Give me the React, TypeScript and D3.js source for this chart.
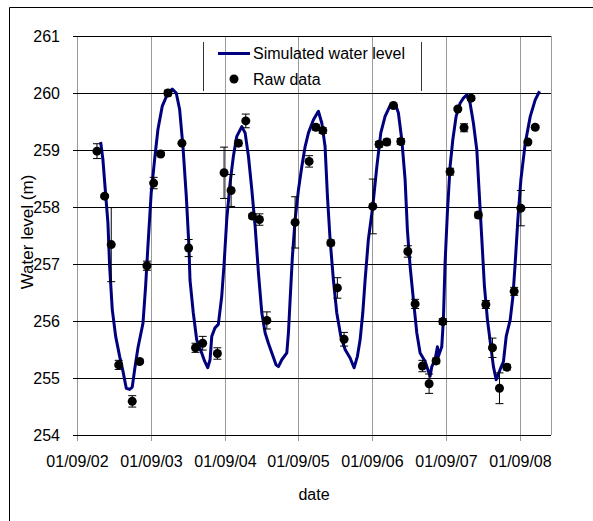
import { useEffect, useRef } from 'react';
import * as d3 from 'd3';

// simulated series: decimal year / water level (m)
const simYears = [
  2002.981, 2003.012, 2003.044, 2003.08, 2003.103, 2003.139, 2003.185, 2003.239, 2003.284, 2003.329,
  2003.375, 2003.41, 2003.443, 2003.488, 2003.556, 2003.592, 2003.623, 2003.668, 2003.714, 2003.759,
  2003.818, 2003.895, 2003.954, 2004.008, 2004.054, 2004.099, 2004.144, 2004.18, 2004.194, 2004.239,
  2004.285, 2004.353, 2004.391, 2004.434, 2004.466, 2004.489, 2004.533, 2004.578, 2004.624, 2004.656,
  2004.692, 2004.737, 2004.782, 2004.828, 2004.896, 2004.941, 2004.986, 2005.032, 2005.077, 2005.122,
  2005.168, 2005.213, 2005.257, 2005.304, 2005.362, 2005.393, 2005.439, 2005.507, 2005.529, 2005.552,
  2005.583, 2005.62, 2005.665, 2005.711, 2005.756, 2005.801, 2005.869, 2005.936, 2005.983, 2006.027,
  2006.059, 2006.095, 2006.14, 2006.186, 2006.241, 2006.299, 2006.367, 2006.421, 2006.466, 2006.503,
  2006.539, 2006.571, 2006.615, 2006.675, 2006.73, 2006.784, 2006.842, 2006.91, 2006.978, 2007.023,
  2007.069, 2007.114, 2007.145, 2007.182, 2007.227, 2007.273, 2007.318, 2007.386, 2007.453, 2007.477,
  2007.521, 2007.553, 2007.566, 2007.612, 2007.634, 2007.657, 2007.688, 2007.725, 2007.762, 2007.807,
  2007.861, 2007.906, 2007.952, 2007.997, 2008.042, 2008.088, 2008.123, 2008.156, 2008.191, 2008.232,
  2008.278, 2008.313, 2008.35, 2008.404, 2008.449, 2008.486, 2008.54, 2008.577, 2008.608, 2008.644,
  2008.685, 2008.744, 2008.812, 2008.879, 2008.938,
];
const simLevels = [
  259.14, 258.83, 258.3, 257.72, 256.96, 256.2, 255.73, 255.38, 255.12, 254.82,
  254.8, 254.84, 255.15, 255.53, 255.96, 256.61, 257.31, 258.25, 258.83, 259.36,
  259.77, 260.0, 260.07, 260.0, 259.71, 259.06, 258.19, 257.31, 256.72, 256.14,
  255.67, 255.44, 255.3, 255.18, 255.32, 255.73, 255.88, 255.94, 256.43, 257.0,
  257.78, 258.42, 258.89, 259.24, 259.41, 259.3, 258.89, 258.3, 257.66, 256.84,
  256.14, 255.79, 255.61, 255.44, 255.23, 255.2, 255.32, 255.44, 255.79, 256.37,
  257.13, 257.78, 258.3, 258.71, 259.06, 259.3, 259.53, 259.68, 259.47, 259.06,
  258.19, 257.43, 256.72, 256.14, 255.73, 255.5, 255.35, 255.18, 255.38, 255.67,
  256.14, 256.72, 257.43, 258.01, 258.71, 259.3, 259.59, 259.78, 259.82, 259.65,
  259.18, 258.48, 257.6, 256.96, 256.37, 255.79, 255.44, 255.29, 255.03, 255.2,
  255.32, 255.55, 255.38, 255.55, 256.02, 257.02, 257.89, 258.71, 259.18, 259.59,
  259.82, 259.91, 259.97, 259.82, 259.47, 259.0, 258.19, 257.43, 256.61, 256.02,
  255.55, 255.2, 254.97, 255.15, 255.29, 255.73, 256.02, 256.43, 257.02, 257.78,
  258.48, 259.12, 259.59, 259.88, 260.03,
];

// measured points
const rawYears = [
  2002.931, 2003.035, 2003.125, 2003.226, 2003.41, 2003.511, 2003.61, 2003.701, 2003.796, 2003.895,
  2004.085, 2004.176, 2004.269, 2004.366, 2004.565, 2004.656, 2004.751, 2004.85, 2004.95, 2005.04,
  2005.135, 2005.236, 2005.62, 2005.81, 2005.901, 2005.996, 2006.105, 2006.194, 2006.285, 2006.675,
  2006.761, 2006.865, 2006.955, 2007.056, 2007.151, 2007.25, 2007.349, 2007.44, 2007.535, 2007.626,
  2007.725, 2007.83, 2007.915, 2008.01, 2008.109, 2008.21, 2008.3, 2008.395, 2008.495, 2008.594,
  2008.685, 2008.78, 2008.879,
];
const rawLevels = [
  258.98, 258.19, 257.34, 255.23, 254.59, 255.29, 256.97, 258.42, 258.93, 260.0,
  259.12, 257.28, 255.53, 255.61, 255.43, 258.6, 258.29, 259.12, 259.51, 257.84,
  257.78, 256.01, 257.73, 258.8, 259.4, 259.34, 257.37, 256.58, 255.68, 258.01,
  259.1, 259.14, 259.78, 259.15, 257.22, 256.3, 255.21, 254.9, 255.3, 255.99,
  258.62, 259.72, 259.39, 259.91, 257.86, 256.29, 255.53, 254.82, 255.19, 256.52,
  257.98, 259.14, 259.4,
];
const rawErrors = [
  0.13, 0.03, 0.65, 0.08, 0.1, 0.03, 0.08, 0.1, 0.03, 0.05,
  0.0, 0.15, 0.08, 0.12, 0.1, 0.45, 0.28, 0.05, 0.12, 0.04,
  0.1, 0.15, 0.45, 0.1, 0.05, 0.05, 0.05, 0.18, 0.12, 0.48,
  0.05, 0.05, 0.02, 0.05, 0.1, 0.08, 0.1, 0.17, 0.05, 0.05,
  0.06, 0.02, 0.07, 0.04, 0.05, 0.07, 0.17, 0.27, 0.05, 0.07,
  0.31, 0.03, 0.03,
];

const tickDates = ['2002-09-01', '2003-09-01', '2004-09-01', '2005-09-01', '2006-09-01', '2007-09-01', '2008-09-01'];
const yTicks = [254, 255, 256, 257, 258, 259, 260, 261];
const legendLabels = ['Simulated water level', 'Raw data'];

const FONT = "'Liberation Sans', Arial, sans-serif";
const LINE_COLOR = '#00007f';

const fromDecimalYear = (v: number) => {
  const yr = Math.floor(v);
  const a = new Date(yr, 0, 1).getTime();
  const b = new Date(yr + 1, 0, 1).getTime();
  return new Date(a + (v - yr) * (b - a));
};
const parseDay = (s: string) => {
  const [y, m, d] = s.split('-').map(Number);
  return new Date(y, m - 1, d);
};

const WaterLevelChart = ({ width = 593, height = 521 }) => {
  const svgRef = useRef<SVGSVGElement>(null);

  useEffect(() => {
    if (!svgRef.current) return;
    const svg = d3.select(svgRef.current);
    svg.selectAll('*').remove();

    const plot = { left: 73, right: 551, top: 36, bottom: 435 };

    const x = d3
      .scaleTime()
      .domain([new Date(2002, 7, 10), new Date(2009, 1, 4)])
      .range([plot.left, plot.right]);
    const y = d3.scaleLinear().domain([254, 261]).range([plot.bottom, plot.top]);

    // outer frame (only top and left edges show)
    svg.append('line').attr('x1', 9.5).attr('x2', width).attr('y1', 7.5).attr('y2', 7.5).attr('stroke', '#000');
    svg.append('line').attr('x1', 9.5).attr('x2', 9.5).attr('y1', 7.5).attr('y2', height).attr('stroke', '#000');

    // vertical grid + x ticks
    tickDates.forEach((t) => {
      const px = Math.round(x(parseDay(t))) + 0.5;
      svg.append('line')
        .attr('x1', px).attr('x2', px)
        .attr('y1', plot.top).attr('y2', plot.bottom + 6)
        .attr('stroke', '#9a9a9a');
      svg.append('text')
        .attr('x', px).attr('y', 467)
        .attr('text-anchor', 'middle')
        .attr('font-family', FONT).attr('font-size', 16)
        .attr('fill', '#000')
        .text(d3.timeFormat('%d/%m/%y')(parseDay(t)));
    });

    // right border of plot area
    svg.append('line')
      .attr('x1', plot.right + 0.5).attr('x2', plot.right + 0.5)
      .attr('y1', plot.top).attr('y2', plot.bottom)
      .attr('stroke', '#9a9a9a');

    // horizontal grid + y labels
    yTicks.forEach((v) => {
      const py = Math.round(y(v)) + 0.5;
      svg.append('line')
        .attr('x1', plot.left).attr('x2', plot.right)
        .attr('y1', py).attr('y2', py)
        .attr('stroke', '#000');
      svg.append('text')
        .attr('x', 60).attr('y', py)
        .attr('dy', '0.36em')
        .attr('text-anchor', 'end')
        .attr('font-family', FONT).attr('font-size', 16)
        .text(v);
    });

    // axis titles
    svg.append('text')
      .attr('transform', 'translate(33,232) rotate(-90)')
      .attr('text-anchor', 'middle')
      .attr('font-family', FONT).attr('font-size', 17)
      .text('Water level (m)');
    svg.append('text')
      .attr('x', 314).attr('y', 500)
      .attr('text-anchor', 'middle')
      .attr('font-family', FONT).attr('font-size', 16)
      .text('date');

    // legend (side borders only)
    [203.5, 421.5].forEach((lx) => {
      svg.append('line').attr('x1', lx).attr('x2', lx).attr('y1', 42).attr('y2', 91).attr('stroke', '#333');
    });
    svg.append('line')
      .attr('x1', 218).attr('x2', 250).attr('y1', 53.5).attr('y2', 53.5)
      .attr('stroke', LINE_COLOR).attr('stroke-width', 3);
    svg.append('circle').attr('cx', 234).attr('cy', 79).attr('r', 4.5).attr('fill', '#000');
    legendLabels.forEach((label, i) => {
      svg.append('text')
        .attr('x', 253).attr('y', 59 + i * 26)
        .attr('font-family', FONT).attr('font-size', 16)
        .text(label);
    });

    // simulated line
    const simData = simYears.map((yr, i) => ({ date: fromDecimalYear(yr), value: simLevels[i] }));
    const line = d3
      .line<{ date: Date; value: number }>()
      .x((d) => x(d.date))
      .y((d) => y(d.value));
    svg.append('path')
      .datum(simData)
      .attr('d', line)
      .attr('fill', 'none')
      .attr('stroke', LINE_COLOR)
      .attr('stroke-width', 3)
      .attr('stroke-linejoin', 'round');

    // raw data with error bars
    const rawData = rawYears.map((yr, i) => ({ date: fromDecimalYear(yr), value: rawLevels[i], err: rawErrors[i] }));
    const bars = svg.append('g').attr('stroke', '#000').attr('stroke-width', 1);
    rawData.filter((d) => d.err > 0).forEach((d) => {
      const cx = x(d.date);
      const y1 = y(d.value + d.err);
      const y2 = y(d.value - d.err);
      bars.append('line').attr('x1', cx).attr('x2', cx).attr('y1', y1).attr('y2', y2);
      [y1, y2].forEach((cy) => {
        bars.append('line').attr('x1', cx - 4).attr('x2', cx + 4).attr('y1', cy).attr('y2', cy);
      });
    });
    svg.append('g')
      .selectAll('circle')
      .data(rawData)
      .join('circle')
      .attr('cx', (d) => x(d.date))
      .attr('cy', (d) => y(d.value))
      .attr('r', 4.5)
      .attr('fill', '#000');
  }, [width, height]);

  return <svg ref={svgRef} width={width} height={height} style={{ display: 'block', background: '#fff' }} />;
};

export default function App() {
  return (
    <div style={{ position: 'absolute', left: 0, top: 0 }}>
      <WaterLevelChart />
    </div>
  );
}
